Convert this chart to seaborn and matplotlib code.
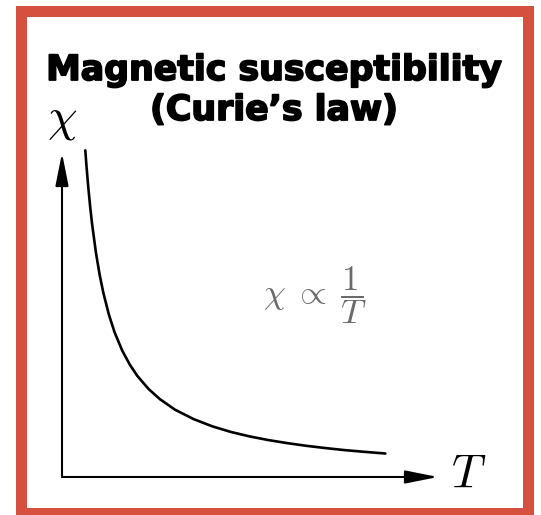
import matplotlib
matplotlib.use("Agg")
import matplotlib.pyplot as plt
import matplotlib.patheffects as pe
import seaborn as sns
from matplotlib.patches import Rectangle

# Curie's law: susceptibility falls off as 1/T
temperature = [0.62, 0.65, 0.70, 0.75, 0.80, 0.90, 1.00, 1.10, 1.25, 1.40,
               1.60, 1.80, 2.00, 2.30, 2.60, 3.00, 3.50, 4.00, 4.50, 5.00,
               5.50, 6.00, 6.50, 7.00, 7.50, 8.00, 8.60]
susceptibility = [1.613, 1.538, 1.429, 1.333, 1.250, 1.111, 1.000, 0.909, 0.800, 0.714,
                  0.625, 0.556, 0.500, 0.435, 0.385, 0.333, 0.286, 0.250, 0.222, 0.200,
                  0.182, 0.167, 0.154, 0.143, 0.133, 0.125, 0.116]

title_lines = ["Magnetic susceptibility", "(Curie\u2019s law)"]
x_label = r"$T$"
y_label = r"$\chi$"
law_label = r"$\chi\;\propto\;\dfrac{1}{T}$"

sns.set_theme(style="white")
plt.rcParams["mathtext.fontset"] = "cm"

W, H = 541, 515
fig = plt.figure(figsize=(W / 100, H / 100), dpi=100)
fig.patch.set_facecolor("white")


def fx(px):
    return px / W


def fy(py):
    return 1 - py / H


# Plot area: origin at the corner of the two arrows
ox, oy, tip_x, tip_y = 62, 477, 438, 153
ax = fig.add_axes([fx(ox), fy(oy), (tip_x - ox) / W, (oy - tip_y) / H])
ax.set_xlim(0, 10)
ax.set_ylim(0, 1.6)
ax.set_axis_off()

sns.lineplot(x=temperature, y=susceptibility, ax=ax, color="black",
             linewidth=1.9, sort=False, clip_on=False)

arrow = dict(arrowstyle="-|>,head_length=1.0,head_width=0.2", color="black",
             lw=1.5, mutation_scale=20, shrinkA=0, shrinkB=0)
ax.annotate("", xy=(1, 0), xytext=(0, 0), xycoords="axes fraction",
            textcoords="axes fraction", arrowprops=arrow)
ax.annotate("", xy=(0, 1), xytext=(0, 0), xycoords="axes fraction",
            textcoords="axes fraction", arrowprops=arrow)

# Axis symbols
fig.text(fx(469), fy(474), x_label, fontsize=34, ha="center", va="center", color="black")
fig.text(fx(62.5), fy(120), y_label, fontsize=34, ha="center", va="center", color="black")

# Proportionality label
fig.text(fx(315.5), fy(295), law_label, fontsize=25, ha="center", va="center",
         color="#6b6b6b")

# Title, drawn extra heavy
title_font = dict(fontsize=25, fontweight="bold", family=["DejaVu Sans"],
                  ha="center", va="baseline", color="black",
                  path_effects=[pe.withStroke(linewidth=1.3, foreground="black")])
fig.text(fx(274), fy(80), title_lines[0], **title_font)
fig.text(fx(274), fy(120), title_lines[1], **title_font)

# Red frame
frame = Rectangle((fx(20.5), fy(512.5)), fx(527.5) - fx(20.5), fy(10.5) - fy(512.5),
                  transform=fig.transFigure, fill=False, edgecolor="#d65040",
                  linewidth=11 * 0.72, joinstyle="miter")
fig.patches.append(frame)

fig.savefig("out.png", dpi=100, facecolor="white")
